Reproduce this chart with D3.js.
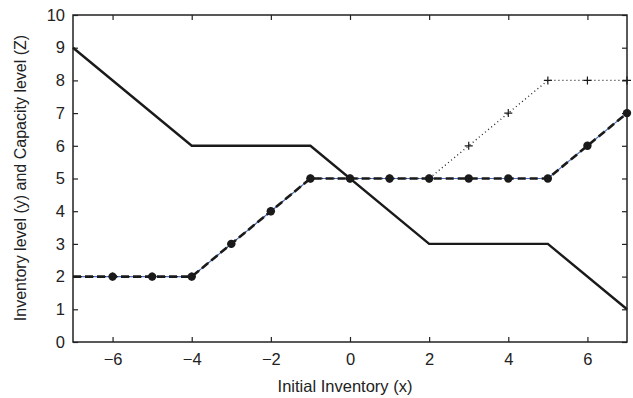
<!DOCTYPE html>
<html>
<head>
<meta charset="utf-8">
<script src="https://cdn.jsdelivr.net/npm/d3@7"></script>
<style>
  body { margin: 0; background: #fff; }
  svg { font-family: "Liberation Sans", Arial, sans-serif; }
</style>
</head>
<body>
<div id="chart"></div>
<script>
// capacity level Z (solid)
var capX = [-7, -4, -1, 2, 5, 7];
var capY = [9, 6, 6, 3, 3, 1];

// upper inventory path (dotted, + markers)
var upX = [-7, -6, -5, -4, -3, -2, -1, 0, 1, 2, 3, 4, 5, 6, 7];
var upY = [2, 2, 2, 2, 3, 4, 5, 5, 5, 5, 6, 7, 8, 8, 8];

// inventory level y (dashed, filled circles)
var invX = [-7, -6, -5, -4, -3, -2, -1, 0, 1, 2, 3, 4, 5, 6, 7];
var invY = [2, 2, 2, 2, 3, 4, 5, 5, 5, 5, 5, 5, 5, 6, 7];

var xTicks = [-6, -4, -2, 0, 2, 4, 6];
var yTicks = [0, 1, 2, 3, 4, 5, 6, 7, 8, 9, 10];

var W = 633, H = 398;
var margin = {top: 15, right: 6, bottom: 56, left: 73};
var width = W - margin.left - margin.right;
var height = H - margin.top - margin.bottom;

var svg = d3.select("#chart").append("svg")
    .attr("width", W)
    .attr("height", H);

var g = svg.append("g")
    .attr("transform", "translate(" + margin.left + "," + margin.top + ")");

var x = d3.scaleLinear().domain([-7, 7]).range([0, width]);
var y = d3.scaleLinear().domain([0, 10]).range([height, 0]);

var fmt = function(d) { return d < 0 ? "\u2212" + Math.abs(d) : d; };

// axes with inward ticks on all four sides
var xb = g.append("g").attr("transform", "translate(0," + height + ")")
    .call(d3.axisBottom(x).tickValues(xTicks).tickSizeInner(-5).tickSizeOuter(0).tickPadding(11).tickFormat(fmt));
var xt = g.append("g")
    .call(d3.axisTop(x).tickValues(xTicks).tickSizeInner(-5).tickSizeOuter(0).tickFormat(""));
var yl = g.append("g")
    .call(d3.axisLeft(y).tickValues(yTicks).tickSizeInner(-5).tickSizeOuter(0).tickPadding(8));
var yr = g.append("g").attr("transform", "translate(" + width + ",0)")
    .call(d3.axisRight(y).tickValues(yTicks).tickSizeInner(-5).tickSizeOuter(0).tickFormat(""));

[xb, xt, yl, yr].forEach(function(a) {
  a.select(".domain").remove();
  a.selectAll("line").attr("stroke", "#222").attr("stroke-width", 1.2);
  a.selectAll("text").attr("font-size", 16.5).attr("fill", "#222")
    .attr("font-family", "Liberation Sans, Arial, sans-serif");
});

g.append("rect")
    .attr("width", width).attr("height", height)
    .attr("fill", "none").attr("stroke", "#222").attr("stroke-width", 1.5);

var line = d3.line().x(function(d) { return x(d[0]); }).y(function(d) { return y(d[1]); });
var zip = function(a, b) { return a.map(function(v, i) { return [v, b[i]]; }); };

var plot = g.append("g");

// blue thin line under inventory
plot.append("path").datum(zip(invX, invY))
    .attr("d", line).attr("fill", "none")
    .attr("stroke", "#4a6fc0").attr("stroke-width", 1.2);

// dotted upper path
plot.append("path").datum(zip(upX, upY))
    .attr("d", line).attr("fill", "none")
    .attr("stroke", "#222").attr("stroke-width", 1.3)
    .attr("stroke-dasharray", "1,3");

// dashed inventory
plot.append("path").datum(zip(invX, invY))
    .attr("d", line).attr("fill", "none")
    .attr("stroke", "#1a1a1a").attr("stroke-width", 2.6)
    .attr("stroke-dasharray", "8,4");

// solid capacity
plot.append("path").datum(zip(capX, capY))
    .attr("d", line).attr("fill", "none")
    .attr("stroke", "#1a1a1a").attr("stroke-width", 2.4);

// + markers
var plus = zip(upX, upY).filter(function(d) { return d[0] >= -6; });
plot.selectAll(".plus").data(plus).enter().append("path")
    .attr("class", "plus")
    .attr("d", function(d) {
      var cx = x(d[0]), cy = y(d[1]), s = 4;
      return "M" + (cx - s) + "," + cy + "H" + (cx + s) + "M" + cx + "," + (cy - s) + "V" + (cy + s);
    })
    .attr("stroke", "#1a1a1a").attr("stroke-width", 1.2);

// circle markers
plot.selectAll(".dot").data(zip(invX, invY).filter(function(d) { return d[0] >= -6; }))
  .enter().append("circle")
    .attr("cx", function(d) { return x(d[0]); })
    .attr("cy", function(d) { return y(d[1]); })
    .attr("r", 4.2)
    .attr("fill", "#1a1a1a");

svg.append("text")
    .attr("x", 345)
    .attr("y", 392)
    .attr("text-anchor", "middle")
    .attr("font-size", 16.5)
    .attr("fill", "#222")
    .text("Initial Inventory (x)");

svg.append("text")
    .attr("transform", "translate(26,178) rotate(-90)")
    .attr("text-anchor", "middle")
    .attr("font-size", 16)
    .attr("fill", "#222")
    .text("Inventory level (y) and Capacity level (Z)");
</script>
</body>
</html>
